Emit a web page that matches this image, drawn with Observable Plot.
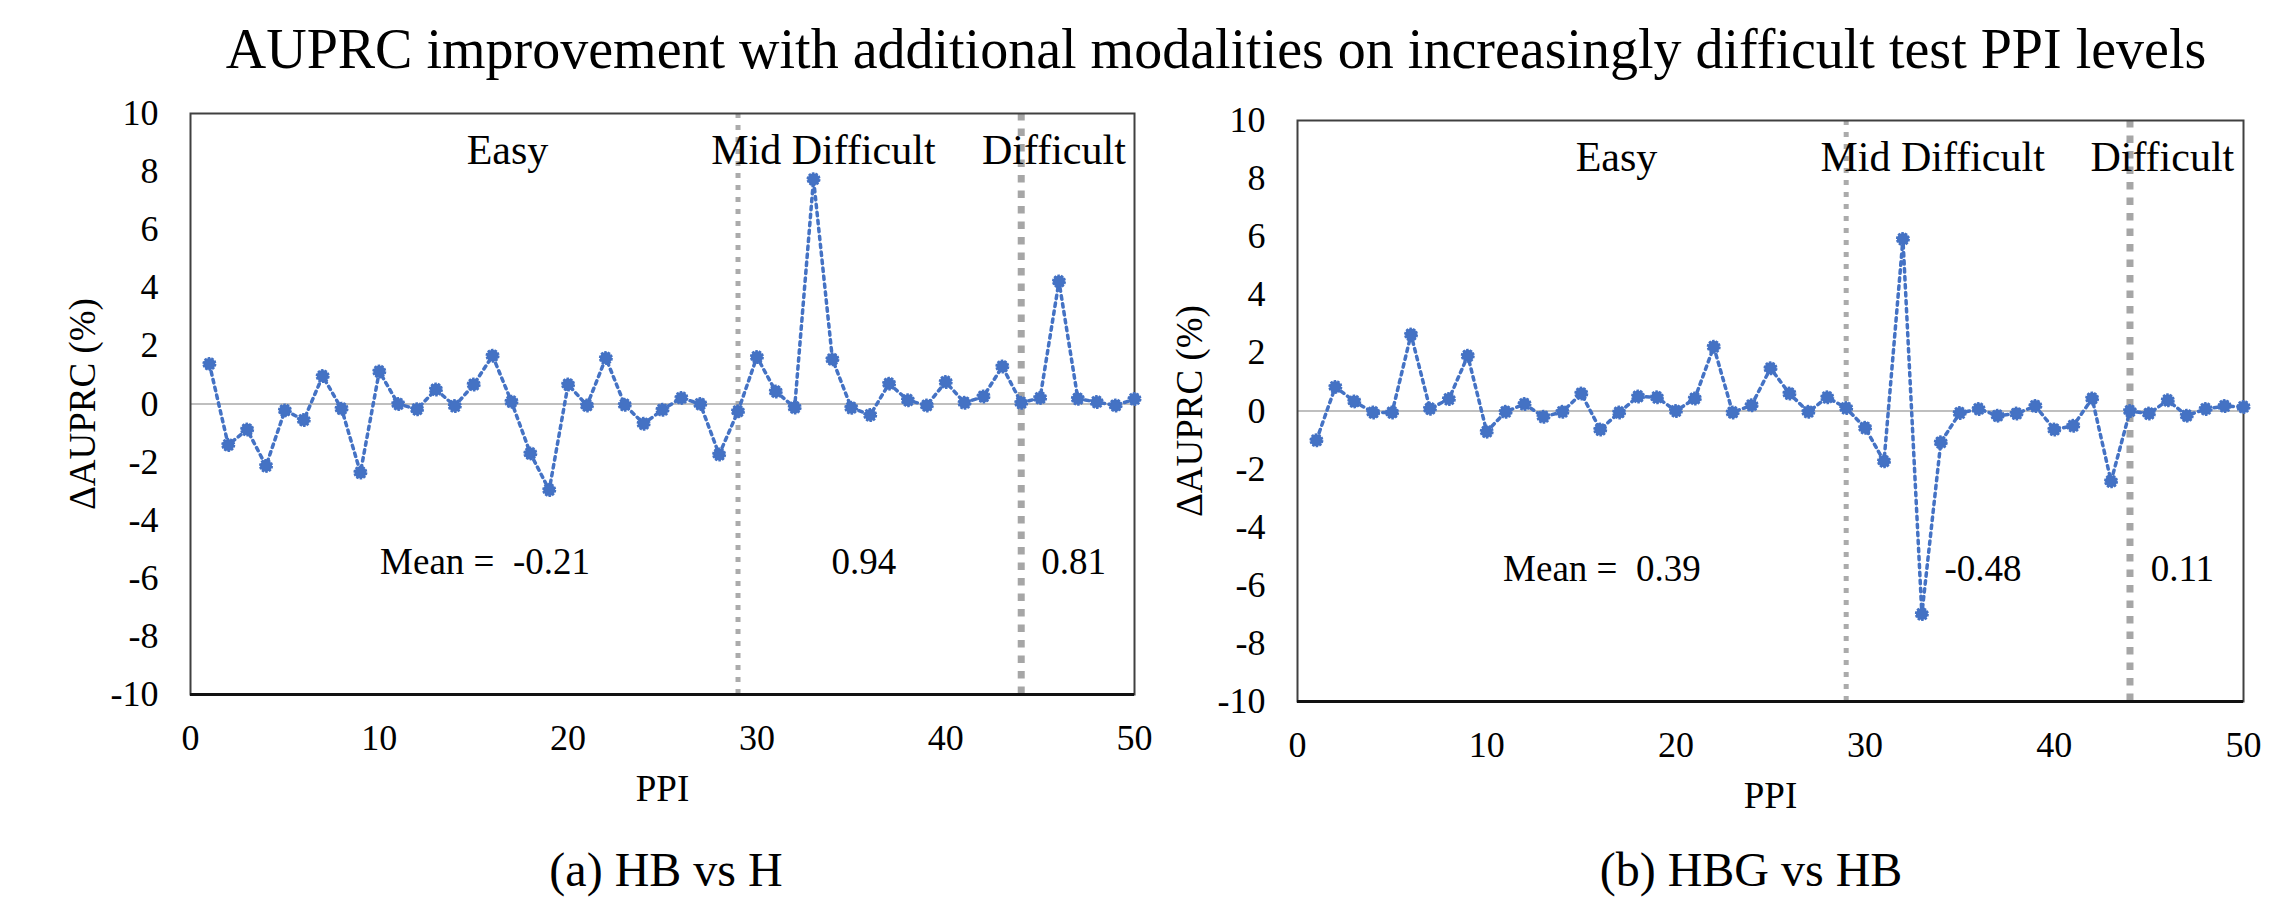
<!DOCTYPE html>
<html><head><meta charset="utf-8">
<script src="https://cdn.jsdelivr.net/npm/d3@7"></script>
<script src="https://cdn.jsdelivr.net/npm/@observablehq/plot@0.6"></script>
<style>
html,body{margin:0;padding:0;background:#fff;}
body{width:2281px;height:903px;position:relative;overflow:hidden;font-family:"Liberation Serif","Times New Roman",serif;color:#000;}
.abs{position:absolute;}
.title{left:1216px;top:21px;transform:translateX(-50%);font-size:56px;line-height:56px;white-space:nowrap;}
.cap{top:846px;transform:translateX(-50%);font-size:48px;line-height:48px;white-space:nowrap;}
svg text{white-space:pre;}
</style></head>
<body>
<div class="abs title">AUPRC improvement with additional modalities on increasingly difficult test PPI levels</div>
<div id="pa" class="abs" style="left:0px;top:90px"></div>
<div id="pb" class="abs" style="left:1165px;top:97px"></div>
<div class="abs cap" style="left:666px">(a) HB vs H</div>
<div class="abs cap" style="left:1751px">(b) HBG vs HB</div>
<script>
// ---- data ----
const ppi = [1,2,3,4,5,6,7,8,9,10,11,12,13,14,15,16,17,18,19,20,21,22,23,24,25,26,27,28,29,30,31,32,33,34,35,36,37,38,39,40,41,42,43,44,45,46,47,48,49,50];
const hbVsH = [1.38,-1.41,-0.88,-2.13,-0.22,-0.55,0.96,-0.16,-2.36,1.12,
               0.0,-0.18,0.5,-0.07,0.67,1.66,0.08,-1.7,-2.96,0.67,
               -0.05,1.58,-0.03,-0.68,-0.2,0.21,0.0,-1.74,-0.25,1.62,
               0.43,-0.12,7.74,1.54,-0.13,-0.38,0.7,0.13,-0.05,0.76,
               0.04,0.26,1.29,0.04,0.21,4.22,0.18,0.07,-0.05,0.17];
const hbgVsHb = [-1.01,0.83,0.33,-0.05,-0.05,2.63,0.08,0.41,1.9,-0.71,
                 -0.03,0.24,-0.2,-0.03,0.6,-0.64,-0.05,0.5,0.47,0.0,
                 0.43,2.21,-0.05,0.2,1.47,0.6,-0.03,0.47,0.1,-0.58,
                 -1.73,5.92,-6.99,-1.08,-0.07,0.07,-0.16,-0.09,0.17,-0.64,
                 -0.51,0.43,-2.42,0.0,-0.09,0.37,-0.16,0.07,0.17,0.14];
const xTicks = [0,10,20,30,40,50];
const yTicks = [-10,-8,-6,-4,-2,0,2,4,6,8,10];
const boundaries = [29, 44];
const regionLabels = ["Easy","Mid Difficult","Difficult"];
const regionY = 8.25;
const regionXa = [16.79, 33.52, 45.73];
const regionXb = [16.86, 33.57, 45.71];
const meanLabelsA = ["Mean =  -0.21","0.94","0.81"];
const meanLabelsB = ["Mean =  0.39","-0.48","0.11"];
const meanY = -5.85;
const meanXa = [15.6, 35.67, 46.78];
const meanXb = [16.09, 36.23, 46.77];
const yLabel = "ΔAUPRC (%)";
const xLabel = "PPI";

const FONT = '"Liberation Serif","Times New Roman",serif';
const BLUE = "#4472c4";
const fmt = d => String(d);

function panel(values, regionX, meanText, meanX, m) {
  const data = ppi.map((p, i) => ({ppi: p, d: values[i]}));
  const regions = regionLabels.map((t, i) => ({t, x: regionX[i], y: regionY}));
  const means = meanText.map((t, i) => ({t, x: meanX[i], y: meanY}));
  return Plot.plot({
    width: m.width, height: 730,
    marginLeft: m.left, marginRight: m.right, marginTop: 23, marginBottom: 126,
    style: {fontFamily: FONT, fontSize: "36px", background: "transparent", overflow: "visible", color: "#000"},
    x: {domain: [0, 50], ticks: xTicks, label: null},
    y: {domain: [-10, 10], ticks: yTicks, label: null},
    marks: [
      Plot.ruleY([0], {stroke: "#bfbfbf", strokeWidth: 2}),
      Plot.ruleX([boundaries[0]], {stroke: "#ababab", strokeWidth: 5, strokeDasharray: "5,7"}),
      Plot.ruleX([boundaries[1]], {stroke: "#a6a6a6", strokeWidth: 7, strokeDasharray: "7.5,8"}),
      Plot.frame({stroke: "#404040", strokeWidth: 2}),
      Plot.ruleY([-10], {stroke: "#111", strokeWidth: 3}),
      Plot.axisX({ticks: xTicks, tickFormat: fmt, tickSize: 0, tickPadding: 30, label: null, fontSize: 36}),
      Plot.axisY({ticks: yTicks, tickFormat: fmt, tickSize: 0, tickPadding: 32, label: null, fontSize: 36}),
      Plot.line(data, {x: "ppi", y: "d", stroke: BLUE, strokeWidth: 3.5, strokeDasharray: "3.5,4.5"}),
      Plot.dot(data, {x: "ppi", y: "d", r: 6, fill: BLUE, stroke: BLUE, strokeWidth: 2, strokeDasharray: "2.5,1.2"}),
      Plot.text(regions, {x: "x", y: "y", text: "t", fontSize: 42, lineAnchor: "middle", dy: -0.32 * 42, fill: "#000"}),
      Plot.text(means, {x: "x", y: "y", text: "t", fontSize: 37, lineAnchor: "middle", dy: -0.32 * 37, fill: "#000"}),
      Plot.text([yLabel], {text: d => d, frameAnchor: "left", dx: -107, rotate: -90, fontSize: 37, lineAnchor: "middle", textAnchor: "middle", fill: "#000"}),
      Plot.text([xLabel], {text: d => d, frameAnchor: "bottom", dy: 95, fontSize: 37, lineAnchor: "middle", textAnchor: "middle", fill: "#000"})
    ]
  });
}

document.getElementById("pa").append(panel(hbVsH, regionXa, meanLabelsA, meanXa, {width: 1165, left: 190, right: 31}));
document.getElementById("pb").append(panel(hbgVsHb, regionXb, meanLabelsB, meanXb, {width: 1116, left: 132, right: 38}));
</script>
</body></html>
